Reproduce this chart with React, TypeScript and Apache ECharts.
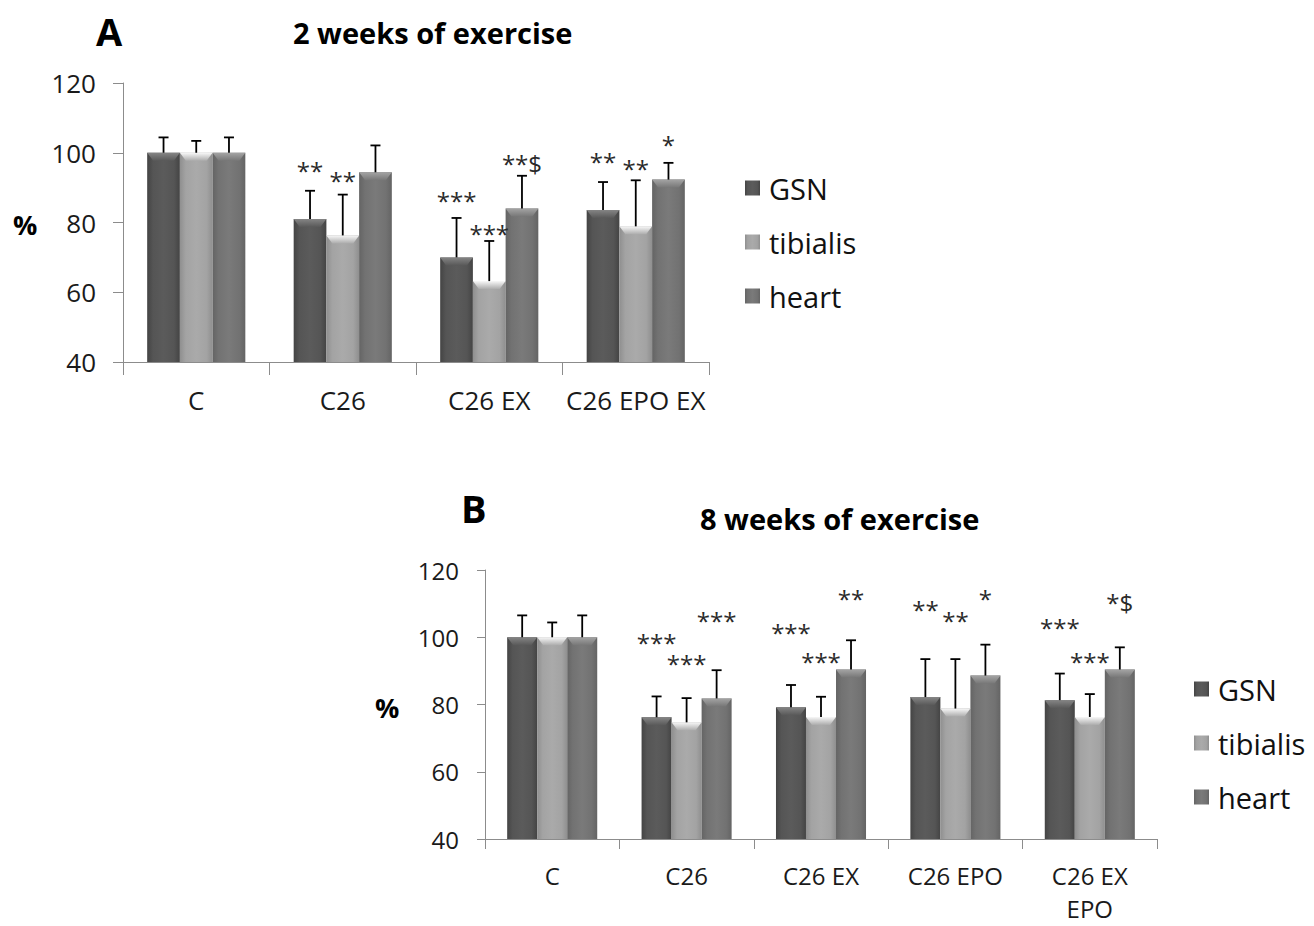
import React, { useEffect, useRef } from "react";
import * as echarts from "echarts";

// ---------- Data ----------
const seriesNames = ["GSN", "tibialis", "heart"];
const yTicks = [40, 60, 80, 100, 120];

// Panel A: 2 weeks of exercise
const categoriesA = ["C", "C26", "C26 EX", "C26 EPO EX"];
const gsnA = [100, 81, 70, 83.6];
const tibA = [100, 76.3, 63.2, 78.9];
const heartA = [100, 94.4, 84, 92.3];
const gsnSdA = [4.4, 8.1, 11.3, 8.0];
const tibSdA = [3.4, 11.7, 11.5, 13.2];
const heartSdA = [4.4, 7.7, 9.4, 4.8];
const gsnSigA = ["", "**", "***", "**"];
const tibSigA = ["", "**", "***", "**"];
const heartSigA = ["", "", "**$", "*"];
const gsnSigYA = [0, 96.5, 87.9, 99.3];
const tibSigYA = [0, 93.9, 78.5, 97.2];
const heartSigYA = [0, 0, 98.7, 104];

// Panel B: 8 weeks of exercise
const categoriesB = ["C", "C26", "C26 EX", "C26 EPO", "C26 EX\nEPO"];
const gsnB = [100, 76.2, 79.2, 82.2, 81.3];
const tibB = [100, 74.7, 76.3, 78.8, 76.3];
const heartB = [100, 81.8, 90.4, 88.6, 90.4];
const gsnSdB = [6.5, 6.2, 6.6, 11.3, 7.9];
const tibSdB = [4.4, 7.2, 6.0, 14.7, 6.8];
const heartSdB = [6.5, 8.4, 8.7, 9.2, 6.6];
const gsnSigB = ["", "***", "***", "**", "***"];
const tibSigB = ["", "***", "***", "**", "***"];
const heartSigB = ["", "***", "**", "*", "*$"];
const gsnSigYB = [0, 100.3, 103.3, 110.0, 104.6];
const tibSigYB = [0, 93.9, 94.7, 106.8, 94.7];
const heartSigYB = [0, 106.8, 113.2, 113.2, 112.0];

// ---------- Styles ----------
const FONT = "'Open Sans', 'DejaVu Sans', sans-serif";
const GAP = 0.33;

const bodyStops = [
  ["#444444", "#555555", "#5b5b5b"],
  ["#8f8f8f", "#a3a3a3", "#aaaaaa"],
  ["#646464", "#727272", "#7a7a7a"],
];
const bevelStops = [
  ["#858585", "#595959"],
  ["#f8f8f8", "#acacac"],
  ["#a4a4a4", "#777777"],
];

function barColor(k: number) {
  const s = bodyStops[k];
  return new echarts.graphic.LinearGradient(0, 0, 1, 0, [
    { offset: 0, color: s[0] },
    { offset: 0.18, color: s[1] },
    { offset: 0.5, color: s[2] },
    { offset: 0.82, color: s[1] },
    { offset: 1, color: s[0] },
  ]);
}

function makePanel(
  grid: number,
  values: number[][],
  sds: number[][],
  sigs: string[][],
  sigYs: number[][]
) {
  const out: any[] = [];
  values.forEach((vals, k) => {
    out.push({
      type: "bar",
      name: seriesNames[k],
      xAxisIndex: grid,
      yAxisIndex: grid,
      data: vals,
      barGap: "0%",
      barCategoryGap: GAP * 100 + "%",
      itemStyle: { color: barColor(k) },
      emphasis: { disabled: true },
    });
  });
  values.forEach((vals, k) => {
    out.push({
      type: "custom",
      name: seriesNames[k] + "_err",
      xAxisIndex: grid,
      yAxisIndex: grid,
      encode: { x: 0, y: 1 },
      z: 5,
      silent: true,
      data: vals.map((v, i) => [i, v, sds[k][i]]),
      renderItem: (params: any, api: any) => {
        const ci = api.value(0);
        const v = api.value(1);
        const sd = api.value(2);
        const catW = api.size([1, 0])[0];
        const barW = (catW * (1 - GAP)) / 3;
        const base = api.coord([ci, v]);
        const x = base[0] + (k - 1) * barW;
        const yv = base[1];
        const yt = api.coord([ci, v + sd])[1];
        const xl = x - barW / 2;
        const xr = x + barW / 2;
        const bv = bevelStops[k];
        const children: any[] = [
          {
            type: "polygon",
            shape: {
              points: [
                [xl, yv],
                [xr, yv],
                [xr - 6, yv + 8],
                [xl + 6, yv + 8],
              ],
            },
            style: {
              fill: new echarts.graphic.LinearGradient(0, 0, 0, 1, [
                { offset: 0, color: bv[0] },
                { offset: 1, color: bv[1] },
              ]),
            },
          },
          {
            type: "line",
            shape: { x1: x, y1: yv, x2: x, y2: yt },
            style: { stroke: "#000", lineWidth: 1.8 },
          },
          {
            type: "line",
            shape: { x1: x - 5, y1: yt, x2: x + 5, y2: yt },
            style: { stroke: "#000", lineWidth: 1.8 },
          },
        ];
        const t = sigs[k][params.dataIndex];
        if (t) {
          const ys = api.coord([ci, sigYs[k][params.dataIndex]])[1];
          children.push({
            type: "text",
            x: x,
            y: ys + 6,
            style: {
              text: t,
              fill: "#2a2a2a",
              font: "24px " + FONT,
              align: "center",
              verticalAlign: "middle",
              textAlign: "center",
              textVerticalAlign: "middle",
            },
          });
        }
        return { type: "group", children };
      },
    });
  });
  return out;
}

function xAxisCfg(grid: number, data: string[], tickLen: number, margin: number, size: number, lh: number) {
  return {
    type: "category",
    gridIndex: grid,
    data,
    axisLine: { show: true, lineStyle: { color: "#8c8c8c", width: 1 } },
    axisTick: { show: true, length: tickLen, lineStyle: { color: "#8c8c8c" } },
    axisLabel: {
      color: "#1a1a1a",
      fontSize: size,
      fontFamily: FONT,
      margin,
      lineHeight: lh,
      interval: 0,
    },
  };
}

function yAxisCfg(grid: number, tickLen: number, margin: number, size: number) {
  return {
    type: "value",
    gridIndex: grid,
    min: yTicks[0],
    max: yTicks[yTicks.length - 1],
    interval: yTicks[1] - yTicks[0],
    axisLine: { show: true, lineStyle: { color: "#8c8c8c", width: 1 } },
    axisTick: { show: true, length: tickLen, lineStyle: { color: "#8c8c8c" } },
    splitLine: { show: false },
    axisLabel: {
      color: "#1a1a1a",
      fontSize: size,
      fontFamily: FONT,
      margin,
    },
  };
}

function legendCfg(left: number, top: number) {
  return {
    orient: "vertical",
    left,
    top,
    padding: 0,
    itemWidth: 15,
    itemHeight: 15,
    itemGap: 24,
    icon: "rect",
    selectedMode: false,
    data: seriesNames,
    textStyle: {
      color: "#111",
      fontSize: 29,
      fontFamily: FONT,
      lineHeight: 30,
      padding: [0, 0, 0, 4],
    },
  };
}

function txt(text: string, x: number, y: number, size: number) {
  return {
    type: "text",
    x,
    y,
    silent: true,
    style: {
      text,
      fill: "#000",
      font: "bold " + size + "px " + FONT,
      textAlign: "left",
      textVerticalAlign: "middle",
    },
  };
}

export default function App() {
  const ref = useRef<HTMLDivElement>(null);
  useEffect(() => {
    if (!ref.current) return;
    const chart = echarts.init(ref.current, undefined, { renderer: "svg" });
    const option: any = {
      animation: false,
      backgroundColor: "#ffffff",
      grid: [
        { left: 123, top: 83, width: 586, height: 279, containLabel: false, outerBoundsMode: "none" },
        { left: 485, top: 570, width: 672, height: 269, containLabel: false, outerBoundsMode: "none" },
      ],
      xAxis: [
        xAxisCfg(0, categoriesA, 13, 20, 26, 36),
        xAxisCfg(1, categoriesB, 10, 20, 24, 33),
      ],
      yAxis: [yAxisCfg(0, 10, 27, 26), yAxisCfg(1, 8, 26, 24)],
      legend: [legendCfg(745, 173), legendCfg(1194, 674)],
      graphic: [
        txt("A", 96, 31, 38),
        txt("2 weeks of exercise", 293, 32, 29),
        txt("%", 13, 224, 27),
        txt("B", 461, 508, 38),
        txt("8 weeks of exercise", 700, 518, 29),
        txt("%", 375, 707, 27),
      ],
      series: [
        ...makePanel(0, [gsnA, tibA, heartA], [gsnSdA, tibSdA, heartSdA], [gsnSigA, tibSigA, heartSigA], [gsnSigYA, tibSigYA, heartSigYA]),
        ...makePanel(1, [gsnB, tibB, heartB], [gsnSdB, tibSdB, heartSdB], [gsnSigB, tibSigB, heartSigB], [gsnSigYB, tibSigYB, heartSigYB]),
      ],
    };
    chart.setOption(option);
    return () => chart.dispose();
  }, []);
  return (
    <div
      ref={ref}
      style={{ position: "fixed", left: 0, top: 0, width: 1314, height: 926, background: "#fff" }}
    />
  );
}
